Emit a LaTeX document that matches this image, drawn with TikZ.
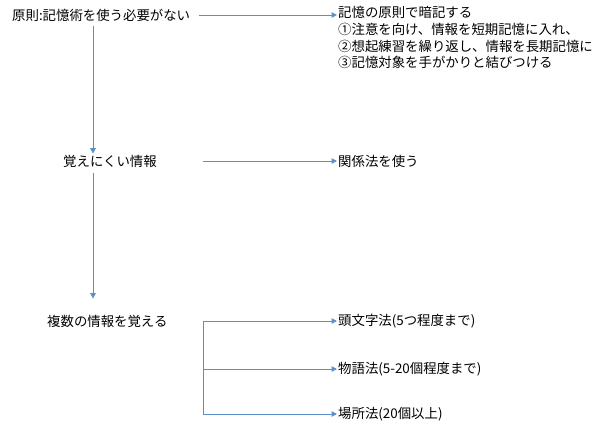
\documentclass[tikz,border=0pt]{standalone}
\usepackage{fontspec}
\setmainfont{Noto Sans CJK JP}
\usepackage{xcolor}
\usetikzlibrary{positioning, arrows.meta}
\definecolor{linkblue}{RGB}{92,143,202}

\begin{document}
\begin{tikzpicture}[x=1pt, y=-1pt,
  txt/.style={anchor=west, inner sep=1pt, font=\fontsize{13.4}{16.6}\selectfont},
  arr/.style={draw=linkblue, line width=1pt, -{Triangle[length=5.5pt, width=5.5pt]}}]
  \useasboundingbox (0,0) rectangle (600,437);

  \node (principle) [txt] at (11,15) {原則:記憶術を使う必要がない};
  \node (rule) [txt, align=left, anchor=north west] at (337,5.5) {
    記憶の原則で暗記する\\
    ①注意を向け、情報を短期記憶に入れ、\\
    ②想起練習を繰り返し、情報を長期記憶に\\
    ③記憶対象を手がかりと結びつける
  };

  \node (hard) [txt] at (62,161) {覚えにくい情報};
  \node (relation) [txt] at (337,161) {関係法を使う};

  \node (many) [txt] at (46,321) {複数の情報を覚える};
  \node (initial) [txt] at (337,321) {頭文字法(5つ程度まで)};
  \node (story) [txt] at (337,369) {物語法(5-20個程度まで)};
  \node (place) [txt] at (337,414) {場所法(20個以上)};

  \coordinate (spine) at (93,0);
  \coordinate (fork) at (203,321);

  \draw [arr, shorten <=8pt] (principle.east) -- (principle.east -| rule.west);
  \draw [arr] (hard.east -| fork) -- (relation);
  \draw [arr] (fork) -- (initial);
  \draw [arr] (fork |- story) -- (story);
  \draw [arr] (fork) |- (place);

  \draw [arr, shorten <=4pt] (principle.south -| spine) -- (hard.north -| spine);
  \draw [arr, shorten <=5pt, shorten >=15pt] (hard.south -| spine) -- (many.north -| spine);
\end{tikzpicture}
\end{document}
